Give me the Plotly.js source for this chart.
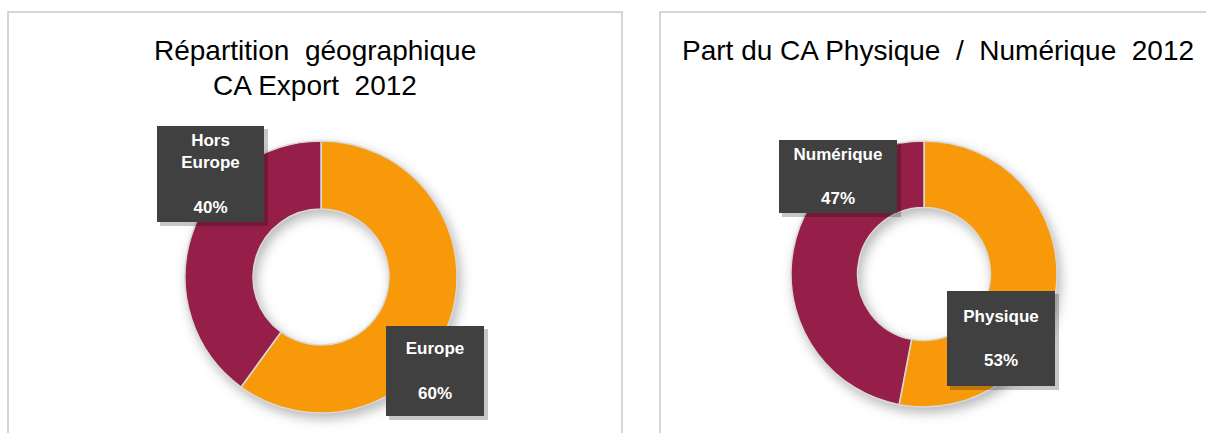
<!DOCTYPE html>
<html>
<head>
<meta charset="utf-8">
<script src="https://cdn.plot.ly/plotly-3.0.1.min.js"></script>
<style>
  html, body { margin: 0; padding: 0; background: #ffffff; }
  #chart { width: 1206px; height: 433px; }
  .pielayer .trace { filter: drop-shadow(3px 5px 6px rgba(0,0,0,0.28)); }
</style>
</head>
<body>
<div id="chart"></div>
<script>
// ---- Data ----
const chart1TitleLines = ['Répartition  géographique', 'CA Export  2012'];
const chart1Labels = ['Europe', 'Hors Europe'];
const chart1LabelLines = ['Europe', 'Hors<br>Europe'];
const chart1Values = [60, 40];

const chart2Title = 'Part du CA Physique  /  Numérique  2012';
const chart2Labels = ['Physique', 'Numérique'];
const chart2LabelLines = ['Physique', 'Numérique'];
const chart2Values = [53, 47];

const sliceColors = ['#F8990A', '#951F48'];

// ---- Layout helpers (pixel -> paper) ----
const W = 1206, H = 433;
const fx = x => x / W;
const fy = y => 1 - y / H;

function pct(values, i) {
  const s = values.reduce((a, b) => a + b, 0);
  return Math.round(values[i] / s * 100) + '%';
}

const pieCommon = {
  type: 'pie',
  hole: 0.5,
  sort: false,
  direction: 'clockwise',
  rotation: 0,
  textinfo: 'none',
  hoverinfo: 'none',
  showlegend: false,
  marker: { colors: sliceColors, line: { color: '#D9D9D9', width: 1.5 } }
};

const traces = [
  Object.assign({}, pieCommon, {
    labels: chart1Labels, values: chart1Values,
    domain: { x: [fx(185), fx(457)], y: [fy(413), fy(141)] }
  }),
  Object.assign({}, pieCommon, {
    labels: chart2Labels, values: chart2Values,
    domain: { x: [fx(791), fx(1057)], y: [fy(407), fy(141)] }
  })
];

// label boxes: [left, top, right, bottom] in px
const boxes1 = [[386, 326, 484, 416], [157, 126, 264, 222]];
const boxes2 = [[947, 291, 1055, 386], [779, 140, 897, 213]];

const shapes = [];
const annotations = [];

// panel borders
shapes.push({ type: 'rect', xref: 'paper', yref: 'paper', x0: fx(8), x1: fx(622), y0: fy(12), y1: fy(445),
  line: { color: '#C9C9C9', width: 1.5 }, fillcolor: 'rgba(0,0,0,0)', layer: 'below' });
shapes.push({ type: 'rect', xref: 'paper', yref: 'paper', x0: fx(660), x1: fx(1220), y0: fy(12), y1: fy(445),
  line: { color: '#C9C9C9', width: 1.5 }, fillcolor: 'rgba(0,0,0,0)', layer: 'below' });

// titles
const titleFont = { family: 'Liberation Sans, Arial, sans-serif', size: 28, color: '#000000' };
annotations.push({ xref: 'paper', yref: 'paper', x: fx(315), y: fy(50), xanchor: 'center', yanchor: 'middle',
  text: chart1TitleLines[0], showarrow: false, font: titleFont });
annotations.push({ xref: 'paper', yref: 'paper', x: fx(315), y: fy(86), xanchor: 'center', yanchor: 'middle',
  text: chart1TitleLines[1], showarrow: false, font: titleFont });
annotations.push({ xref: 'paper', yref: 'paper', x: fx(938), y: fy(50), xanchor: 'center', yanchor: 'middle',
  text: chart2Title, showarrow: false, font: titleFont });

function addLabel(box, label, percent) {
  const [l, t, r, b] = box;
  shapes.push({ type: 'rect', xref: 'paper', yref: 'paper', x0: fx(l + 3), x1: fx(r + 4), y0: fy(b + 4), y1: fy(t + 3),
    line: { width: 0 }, fillcolor: 'rgba(0,0,0,0.22)', layer: 'above' });
  annotations.push({ xref: 'paper', yref: 'paper', x: fx((l + r) / 2), y: fy((t + b) / 2),
    xanchor: 'center', yanchor: 'middle', showarrow: false,
    width: r - l, height: b - t, bgcolor: '#404040', borderwidth: 0, borderpad: 0,
    align: 'center', valign: 'middle',
    text: '<b>' + label + '<br><br>' + percent + '</b>',
    font: { family: 'Liberation Sans, Arial, sans-serif', size: 17, color: '#FFFFFF' } });
}

chart1LabelLines.forEach((lab, i) => addLabel(boxes1[i], lab, pct(chart1Values, i)));
chart2LabelLines.forEach((lab, i) => addLabel(boxes2[i], lab, pct(chart2Values, i)));

const layout = {
  width: W, height: H,
  margin: { l: 0, r: 0, t: 0, b: 0 },
  paper_bgcolor: '#FFFFFF',
  plot_bgcolor: '#FFFFFF',
  shapes: shapes,
  annotations: annotations
};

Plotly.newPlot('chart', traces, layout, { displayModeBar: false, staticPlot: true });
</script>
</body>
</html>
